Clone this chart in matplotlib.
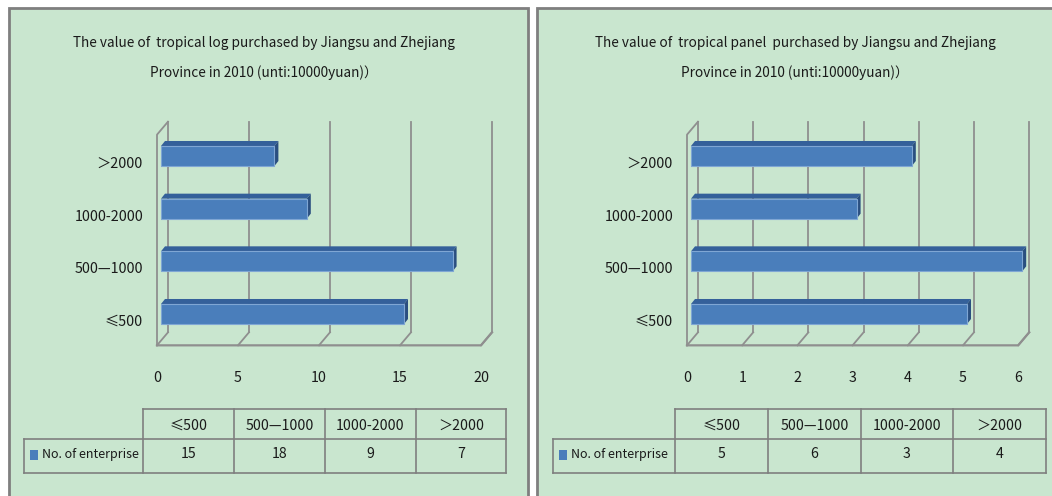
import numpy as np
import matplotlib
matplotlib.use("Agg")
import matplotlib.pyplot as plt
from matplotlib.patches import Polygon, Rectangle

plt.rcParams['font.family'] = ['Noto Sans CJK SC', 'DejaVu Sans']

# data
categories = ['≤500', '500—1000', '1000-2000', '＞2000']
log_counts = [15, 18, 9, 7]
panel_counts = [5, 6, 3, 4]
series_name = 'No. of enterprise'
log_title = ['The value of  tropical log purchased by Jiangsu and Zhejiang',
             'Province in 2010 (unti:10000yuan)）']
panel_title = ['The value of  tropical panel  purchased by Jiangsu and Zhejiang',
               'Province in 2010 (unti:10000yuan)）']
log_ticks = [0, 5, 10, 15, 20]
panel_ticks = [0, 1, 2, 3, 4, 5, 6]

BG = '#c9e6cf'
EDGE = '#7f7f7f'
GRID = '#8f8f8f'
FRONT = '#4a7ebb'
TOP = '#34609a'
SIDE = '#2a4f80'
TXT = '#1a1a1a'

W, H = 1052, 496
fig = plt.figure(figsize=(W / 100, H / 100), dpi=100)
fig.patch.set_facecolor('white')

# pixel overlay for panels, titles and tables
bg = fig.add_axes([0, 0, 1, 1], zorder=0)
bg.set_xlim(0, W)
bg.set_ylim(H, 0)
bg.axis('off')


def shift(ax, x, y, dx, dy):
    p = ax.transData.transform(np.column_stack([np.atleast_1d(x), np.atleast_1d(y)]).astype(float))
    p = p + [dx, dy]
    return ax.transData.inverted().transform(p)


def panel(x0, pw, bar_x0, ppu, counts, ticks, title, tcols, tlab, tx_center):
    # panel background
    bg.add_patch(Rectangle((x0, 8), pw, 520, facecolor=BG, edgecolor=EDGE, lw=2.0))
    bg.text(tx_center, 47, title[0], ha='center', va='baseline', fontsize=9.8, color=TXT)
    bg.text(tx_center, 77, title[1], ha='center', va='baseline', fontsize=9.8, color=TXT)

    xmax = ticks[-1]
    ax = fig.add_axes([bar_x0 / W, (H - 314) / H, ppu * xmax / W, 158 / H], zorder=1)
    ax.set_xlim(0, xmax)
    ax.set_ylim(0, 3)
    ax.patch.set_alpha(0)
    ax.axis('off')
    fig.canvas.draw()

    floor, top = -0.5, 3.5
    bk = (7, 8)      # back wall offset (px)
    fr = (-4, -5)    # front floor offset (px)
    # back gridlines, floor diagonals, x tick labels
    for t in ticks:
        b = shift(ax, [t, t], [floor, top], *bk)
        ax.plot(b[:, 0], b[:, 1], color=GRID, lw=1.3, clip_on=False, zorder=1)
        f = shift(ax, t, floor, *fr)[0]
        ax.plot([b[0, 0], f[0]], [b[0, 1], f[1]], color=GRID, lw=1.3, clip_on=False, zorder=1)
        lp = shift(ax, t, floor, -4, -42)[0]
        ax.text(lp[0], lp[1], str(t), ha='center', va='baseline',
                fontsize=10.3, color=TXT, clip_on=False)
    # left wall and front floor edge
    lw_pts = np.vstack([shift(ax, 0, floor, *fr), shift(ax, 0, top, *fr), shift(ax, 0, top, *bk)])
    ax.plot(lw_pts[:, 0], lw_pts[:, 1], color=GRID, lw=1.3, clip_on=False, zorder=1)
    ff = np.vstack([shift(ax, 0, floor, *fr), shift(ax, xmax, floor, *fr), shift(ax, xmax, floor, *bk)])
    ax.plot(ff[:, 0], ff[:, 1], color=GRID, lw=1.6, clip_on=False, zorder=1)

    # bars
    h = 0.38
    idx = np.arange(len(categories))
    ax.barh(idx, counts, height=h, color=FRONT, edgecolor='#7fa6d4', lw=0.8,
            clip_on=False, zorder=3)
    for i, v in zip(idx, counts):
        yt, yb = i + h / 2, i - h / 2
        topf = np.vstack([[0, yt], [v, yt], shift(ax, v, yt, 4, 5), shift(ax, 0, yt, 4, 5)])
        ax.add_patch(Polygon(topf, closed=True, facecolor=TOP, edgecolor='none',
                             clip_on=False, zorder=2))
        side = np.vstack([[v, yb], [v, yt], shift(ax, v, yt, 4, 5), shift(ax, v, yb, 4, 5)])
        ax.add_patch(Polygon(side, closed=True, facecolor=SIDE, edgecolor='none',
                             clip_on=False, zorder=2))
        lp = shift(ax, 0, i, -18, -12)[0]
        ax.text(lp[0], lp[1], categories[i], ha='right', va='baseline', fontsize=10.3,
                color=TXT, clip_on=False)

    # data table
    ytop, ymid, ybot = 409, 439, 473
    lab_x = tlab
    for xx in tcols:
        bg.plot([xx, xx], [ytop, ybot], color=EDGE, lw=1.2)
    bg.plot([lab_x, lab_x], [ymid, ybot], color=EDGE, lw=1.2)
    bg.plot([tcols[0], tcols[-1]], [ytop, ytop], color=EDGE, lw=1.2)
    bg.plot([lab_x, tcols[-1]], [ymid, ymid], color=EDGE, lw=1.2)
    bg.plot([lab_x, tcols[-1]], [ybot, ybot], color=EDGE, lw=1.2)
    for j, (c, v) in enumerate(zip(categories, counts)):
        cx = (tcols[j] + tcols[j + 1]) / 2
        bg.text(cx, 430, c, ha='center', va='baseline', fontsize=10.2, color=TXT)
        bg.text(cx, 458, str(v), ha='center', va='baseline', fontsize=10.2, color=TXT)
    bg.add_patch(Rectangle((lab_x + 6, 450), 8, 10, facecolor=FRONT, edgecolor='none'))
    bg.text(lab_x + 18, 458, series_name, ha='left', va='baseline', fontsize=9.0, color=TXT)


panel(9, 519, 161, 16.2, log_counts, log_ticks, log_title,
      [143, 234, 325, 416, 506], 24, 264)
panel(537, 540, 691, 55.2, panel_counts, panel_ticks, panel_title,
      [675, 768, 861, 953, 1046], 553, 795)

fig.savefig('out.png', dpi=100, facecolor='white')
